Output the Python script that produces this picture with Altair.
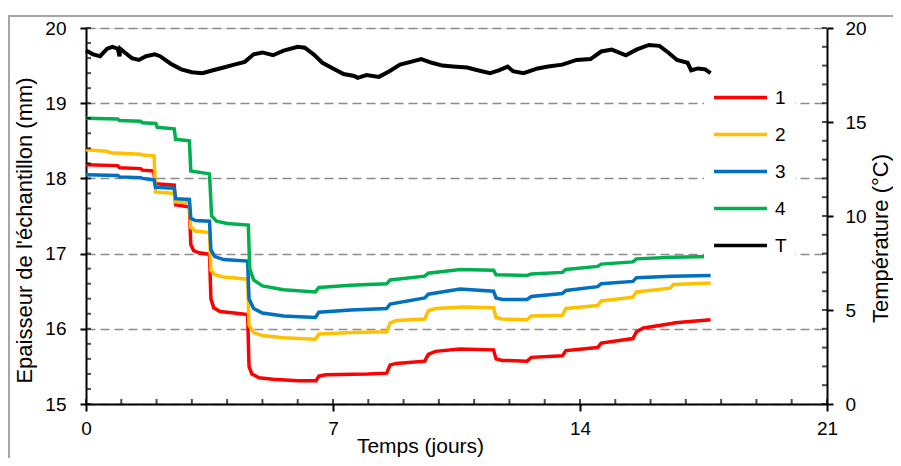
import altair as alt
import pandas as pd

# ---------------- data ----------------
series_names = ["1", "2", "3", "4", "T"]
series_colors = ["#FF0000", "#FFC000", "#0070C0", "#00B050", "#000000"]

days_1 = [0, 0.9, 0.95, 1.55, 1.6, 1.92, 1.96, 2.50, 2.54, 2.93, 2.97, 3.05, 3.2, 3.50, 3.54, 3.62, 3.8, 4.2, 4.58,
          4.62, 4.7, 4.9, 5.3, 6.0, 6.52, 6.6, 6.8, 8.0, 8.52, 8.62, 8.8, 9.6, 9.7, 9.9, 10.6, 11.55, 11.62, 11.8,
          12.5, 12.62, 13.5, 13.6, 14.5, 14.6, 15.5, 15.6, 15.8, 16.6, 16.7, 17.7]
vals_1 = [18.18, 18.17, 18.14, 18.13, 18.11, 18.10, 17.93, 17.91, 17.65, 17.62, 17.12, 17.04, 17.01, 16.99, 16.40,
          16.28, 16.23, 16.21, 16.19, 15.50, 15.40, 15.35, 15.33, 15.31, 15.31, 15.37, 15.39, 15.40, 15.41, 15.52,
          15.54, 15.57, 15.66, 15.70, 15.73, 15.72, 15.60, 15.58, 15.57, 15.62, 15.64, 15.71, 15.75, 15.81, 15.87,
          15.96, 16.01, 16.07, 16.08, 16.12]

days_2 = [0, 0.6, 0.7, 1.55, 1.6, 1.93, 1.97, 2.50, 2.54, 2.93, 2.97, 3.1, 3.50, 3.54, 3.65, 3.9, 4.58, 4.62, 4.75,
          5.0, 5.6, 6.5, 6.6, 7.5, 8.52, 8.62, 8.8, 9.6, 9.7, 9.9, 10.7, 11.55, 11.62, 11.8, 12.5, 12.62, 13.5,
          13.6, 14.5, 14.6, 15.5, 15.6, 16.55, 16.65, 17.7]
vals_2 = [18.38, 18.36, 18.34, 18.32, 18.31, 18.30, 17.82, 17.80, 17.69, 17.68, 17.35, 17.30, 17.28, 16.78, 16.72,
          16.69, 16.66, 16.05, 15.95, 15.91, 15.88, 15.86, 15.93, 15.95, 15.96, 16.08, 16.11, 16.13, 16.24, 16.27,
          16.29, 16.28, 16.15, 16.13, 16.12, 16.17, 16.18, 16.27, 16.31, 16.37, 16.42, 16.49, 16.54, 16.59, 16.61]

days_3 = [0, 0.9, 0.95, 1.55, 1.6, 1.93, 1.97, 2.50, 2.54, 2.93, 2.97, 3.1, 3.50, 3.54, 3.65, 3.9, 4.58, 4.62, 4.75,
          5.0, 5.6, 6.5, 6.6, 7.5, 8.52, 8.62, 9.6, 9.7, 10.6, 11.55, 11.62, 11.8, 12.5, 12.62, 13.5, 13.6, 14.5,
          14.6, 15.5, 15.6, 16.6, 17.7]
vals_3 = [18.05, 18.04, 18.02, 18.01, 18.00, 17.98, 17.88, 17.87, 17.73, 17.72, 17.47, 17.44, 17.43, 17.05, 16.96,
          16.92, 16.90, 16.40, 16.27, 16.21, 16.17, 16.15, 16.22, 16.25, 16.27, 16.33, 16.41, 16.46, 16.53, 16.50,
          16.41, 16.39, 16.39, 16.43, 16.47, 16.51, 16.56, 16.60, 16.63, 16.68, 16.70, 16.71]

days_4 = [0, 0.9, 0.95, 1.55, 1.6, 1.98, 2.02, 2.50, 2.54, 2.93, 2.97, 3.50, 3.56, 3.7, 4.0, 4.6, 4.64, 4.75, 5.0,
          5.6, 6.5, 6.6, 7.5, 8.52, 8.62, 9.6, 9.7, 10.6, 11.55, 11.62, 12.5, 12.62, 13.5, 13.6, 14.5, 14.6, 15.5,
          15.6, 16.6, 17.7]
vals_4 = [18.80, 18.79, 18.77, 18.76, 18.74, 18.73, 18.68, 18.66, 18.52, 18.50, 18.10, 18.06, 17.50, 17.43, 17.40,
          17.38, 16.80, 16.65, 16.57, 16.52, 16.49, 16.55, 16.58, 16.60, 16.65, 16.70, 16.74, 16.79, 16.78, 16.72,
          16.71, 16.73, 16.75, 16.79, 16.83, 16.86, 16.89, 16.93, 16.95, 16.96]

days_T = [0, 0.2, 0.4, 0.6, 0.75, 0.9, 0.95, 0.97, 1.1, 1.3, 1.5, 1.7, 1.95, 2.1, 2.4, 2.7, 3.0, 3.3, 3.6, 3.9, 4.2,
          4.5, 4.75, 5.0, 5.3, 5.6, 6.0, 6.2, 6.45, 6.7, 7.0, 7.3, 7.6, 7.7, 7.95, 8.3, 8.6, 8.9, 9.2, 9.5, 9.8,
          10.1, 10.4, 10.8, 11.1, 11.45, 11.7, 11.95, 12.1, 12.4, 12.8, 13.1, 13.5, 13.9, 14.3, 14.6, 14.9, 15.3,
          15.6, 15.95, 16.25, 16.5, 16.75, 17.05, 17.15, 17.35, 17.55, 17.7]
vals_T = [18.8, 18.6, 18.5, 18.9, 19.0, 18.9, 18.5, 18.9, 18.7, 18.4, 18.3, 18.5, 18.6, 18.5, 18.1, 17.8, 17.65,
          17.6, 17.75, 17.9, 18.05, 18.2, 18.6, 18.7, 18.55, 18.8, 19.0, 18.95, 18.6, 18.15, 17.85, 17.55, 17.45,
          17.35, 17.5, 17.4, 17.7, 18.05, 18.2, 18.35, 18.15, 18.0, 17.95, 17.9, 17.75, 17.6, 17.75, 17.95, 17.7,
          17.6, 17.85, 17.95, 18.05, 18.3, 18.35, 18.75, 18.85, 18.55, 18.85, 19.1, 19.05, 18.7, 18.3, 18.15,
          17.75, 17.85, 17.8, 17.6]

x_ticks = [0, 7, 14, 21]
x_minor = list(range(0, 22))
y_ticks = [15, 16, 17, 18, 19, 20]
y_minor = [round(15 + 0.2 * k, 1) for k in range(26)]
t_ticks = [0, 5, 10, 15, 20]
t_minor = list(range(0, 21))

# ---------------- tables ----------------
rows = []
for name, ds, vs in [("1", days_1, vals_1), ("2", days_2, vals_2), ("3", days_3, vals_3), ("4", days_4, vals_4)]:
    for d, v in zip(ds, vs):
        rows.append({"jours": d, "mm": v, "serie": name})
df_mm = pd.DataFrame(rows)
df_t = pd.DataFrame({"jours": days_T, "temp": vals_T, "serie": ["T"] * len(days_T)})

FONT = "Liberation Sans"
W, H = 741, 376

xscale = alt.Scale(domain=[0, 21], nice=False, zero=False)
yscale = alt.Scale(domain=[15, 20], nice=False, zero=False)
tscale = alt.Scale(domain=[0, 20], nice=False, zero=False)

legend = alt.Legend(
    title=None, orient="none", legendX=618, legendY=53, fillColor="white", padding=8,
    symbolType="stroke", symbolSize=53 * 53, symbolStrokeWidth=3.5, clipHeight=17, rowPadding=17,
    labelFontSize=19, labelFont=FONT, labelColor="black", labelOffset=6, labelBaseline="middle",
)
color = alt.Color("serie:N", scale=alt.Scale(domain=series_names, range=series_colors), legend=legend)

main_x_axis = alt.Axis(values=x_ticks, tickSize=7, tickWidth=2, tickColor="black", domainColor="black",
                       domainWidth=2, labelFontSize=19, labelFont=FONT, labelColor="black", labelPadding=8,
                       labelFlush=False, grid=False, title="Temps (jours)", titleFontSize=21, titleFont=FONT,
                       titleFontWeight="normal", titleColor="black", titleX=334, titleY=48,
                       titleBaseline="alphabetic", titleAlign="center", orient="bottom")
main_y_axis = alt.Axis(values=y_ticks, tickSize=6, tickWidth=2, tickColor="black", domainColor="black",
                       domainWidth=2, labelFontSize=19, labelFont=FONT, labelColor="black", labelPadding=14,
                       grid=True, gridDash=[9, 5], gridColor="#8c8c8c", gridWidth=1.5,
                       title="Epaisseur de l'échantillon (mm)", titleFontSize=22, titleFont=FONT,
                       titleFontWeight="normal", titleColor="black", titleAngle=270, titleAlign="center",
                       titleBaseline="bottom", titleX=-50, titleY=202, orient="left")
t_axis = alt.Axis(values=t_ticks, tickSize=6, tickWidth=2, tickColor="black", domainColor="black",
                  domainWidth=2, labelFontSize=19, labelFont=FONT, labelColor="black", labelPadding=12,
                  grid=False, title="Température (°C)", titleFontSize=22, titleFont=FONT,
                  titleFontWeight="normal", titleColor="black", titlePadding=4, titleAngle=270,
                  titleBaseline="top", titleAlign="center", titleY=210, orient="right")

mm_lines = alt.Chart(df_mm).mark_line(strokeWidth=3.5, interpolate="linear").encode(
    x=alt.X("jours:Q", scale=xscale, axis=main_x_axis),
    y=alt.Y("mm:Q", scale=yscale, axis=main_y_axis),
    color=color,
    detail="serie:N",
)

t_line = alt.Chart(df_t).mark_line(strokeWidth=4).encode(
    x=alt.X("jours:Q", scale=xscale, axis=None),
    y=alt.Y("temp:Q", scale=tscale, axis=t_axis),
    color=color,
)

# inner (minor) ticks of the three axes
minor_x = alt.Chart(pd.DataFrame({"v": x_minor})).mark_tick(color="black", thickness=2, size=5).encode(
    x=alt.X("v:Q", scale=xscale, axis=None), y=alt.value(H - 2.5)
)
minor_y = alt.Chart(pd.DataFrame({"v": y_minor})).mark_tick(color="black", thickness=2, size=5).encode(
    y=alt.Y("v:Q", scale=yscale, axis=None), x=alt.value(2.5)
)
minor_t = alt.Chart(pd.DataFrame({"v": t_minor})).mark_tick(color="black", thickness=2, size=5).encode(
    y=alt.Y("v:Q", scale=tscale, axis=None), x=alt.value(W - 2.5)
)

frame = alt.Chart(pd.DataFrame({"k": [0]})).mark_rect(
    filled=False, stroke="#a6a6a6", strokeWidth=2
).encode(
    x=alt.value(-77), x2=alt.value(W + 200), y=alt.value(-12), y2=alt.value(H + 200)
)

chart = alt.layer(frame, mm_lines, t_line, minor_x, minor_y, minor_t).resolve_scale(
    y="independent"
).resolve_axis(
    x="independent", y="independent"
).properties(
    width=W, height=H,
    autosize=alt.AutoSizeParams(type="none"),
    padding={"left": 78, "top": 20, "right": 66, "bottom": 54},
).configure_view(strokeWidth=0).configure(background="white")

chart.save("out.html", embed_options={"renderer": "svg", "actions": False})
